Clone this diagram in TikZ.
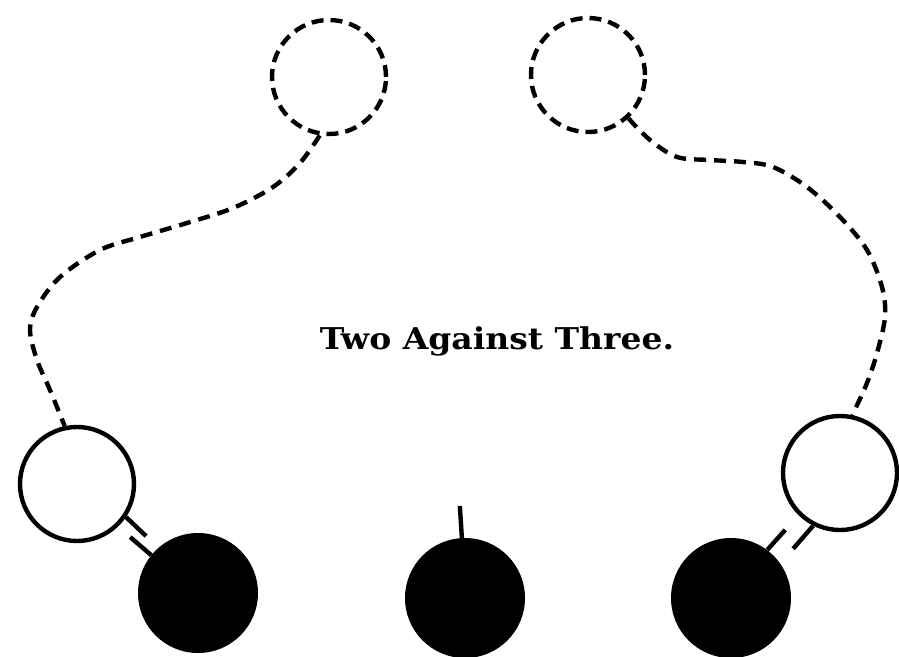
\documentclass[tikz,border=0pt]{standalone}
\usepackage{fontspec}
\newfontfamily\labelfont{DejaVu Serif}
\begin{document}
\begin{tikzpicture}[x=1pt,y=-1pt,
  ghost/.style={circle,draw,dash pattern=on 12pt off 7pt,line width=4.4pt,minimum size=114pt,inner sep=0pt},
  openp/.style={circle,draw,line width=4.4pt,minimum size=114pt,inner sep=0pt},
  blackp/.style={circle,fill=black,minimum size=120pt,inner sep=0pt},
  trail/.style={dash pattern=on 12pt off 8pt,line width=4.4pt},
  link/.style={line width=4.4pt}]
\useasboundingbox (0,0) rectangle (899,656);
\node[ghost] (tl) at (329,77) {};
\node[ghost] (tr) at (588,75) {};
\node[openp] (lo) at (77,484) {};
\node[openp] (ro) at (840,473) {};
\node[blackp] (lb) at (198,593) {};
\node[blackp] (mb) at (465,598) {};
\node[blackp] (rb) at (731,598) {};
\node[font=\labelfont\bfseries\fontsize{30}{34}\selectfont,xscale=1.1] (title) at (497,341) {Two Against Three.};
\draw[trail] plot[smooth,tension=0.55] coordinates {(tl.-99) (300,163) (273,187) (233,208) (187,223) (140,237) (100,250) (60,277) (37,307) (30,330) (37,360) (50,390) (lo.102)};
\draw[trail] plot[smooth,tension=0.55] coordinates {(tr.-47) (650,140) (677,157) (710,160) (743,162) (773,167) (807,187) (840,217) (867,250) (882,287) (885,317) (877,353) (867,383) (ro.78)};
\draw[link] (lo.-34) -- ++(20,19);
\draw[link] (lb.141) -- ++(-21,-18);
\draw[link] (rb.53) -- ++(18,-20);
\draw[link] (ro.-117) -- ++(-20,23);
\draw[link] (mb.93) -- ++(-2,-32);
\end{tikzpicture}
\end{document}
